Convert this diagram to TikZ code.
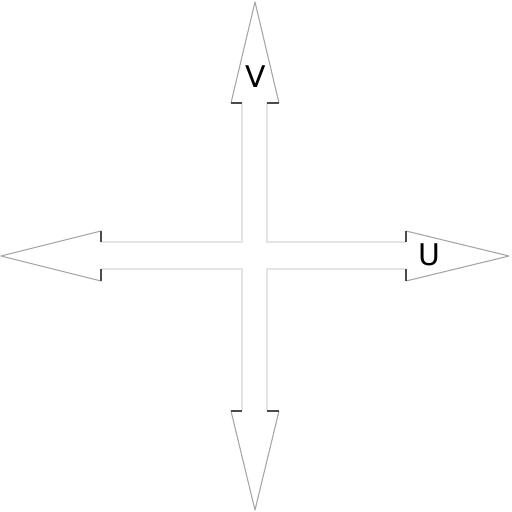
\documentclass[tikz,border=0pt]{standalone}
\usepackage{fontspec}
\setsansfont{DejaVu Sans}
\usetikzlibrary{calc}
\definecolor{headgray}{RGB}{165,165,165}
\definecolor{shaftgray}{RGB}{228,228,228}
\definecolor{heelgray}{RGB}{75,75,75}
\tikzset{headln/.style={draw=headgray, line width=0.6pt, line join=round},
         shaftln/.style={draw=shaftgray, line width=0.6pt},
         heelln/.style={draw=heelgray, line width=1.5pt},
         lbl/.style={font=\sffamily\fontsize{17}{20}\selectfont, inner sep=0pt}}

\begin{document}
\begin{tikzpicture}[x=0.02cm, y=-0.02cm]
  \useasboundingbox[fill=white] (0,0) rectangle (512,512);

  % ---------- shaft outline (the plus) ----------
  \draw[shaftln] (242,103) -- (242,242) -- (101,242);
  \draw[shaftln] (267,103) -- (267,242) -- (406,242);
  \draw[shaftln] (242,411) -- (242,269) -- (101,269);
  \draw[shaftln] (267,411) -- (267,269) -- (406,269);

  % ---------- arrow heads ----------
  \draw[headln] (231,103) -- (255,2) -- (279,103);    % V up
  \draw[headln] (231,411) -- (255,510) -- (279,411);  % V down
  \draw[headln] (101,231) -- (1,256) -- (101,281);    % U left
  \draw[headln] (406,231) -- (509,256) -- (406,281);  % U right

  % heels : dark steps where head meets shaft
  \draw[heelln] (231,103) -- (242,103);  \draw[heelln] (267,103) -- (279,103);
  \draw[heelln] (231,411) -- (242,411);  \draw[heelln] (267,411) -- (279,411);
  \draw[heelln] (101,231) -- (101,242);  \draw[heelln] (101,269) -- (101,281);
  \draw[heelln] (406,231) -- (406,242);  \draw[heelln] (406,269) -- (406,281);

  % ---------- labels ----------
  \node[lbl] (vlab) at (255.5,77) {V};
  \node[lbl] (ulab) at (429,255) {U};

\end{tikzpicture}
\end{document}
